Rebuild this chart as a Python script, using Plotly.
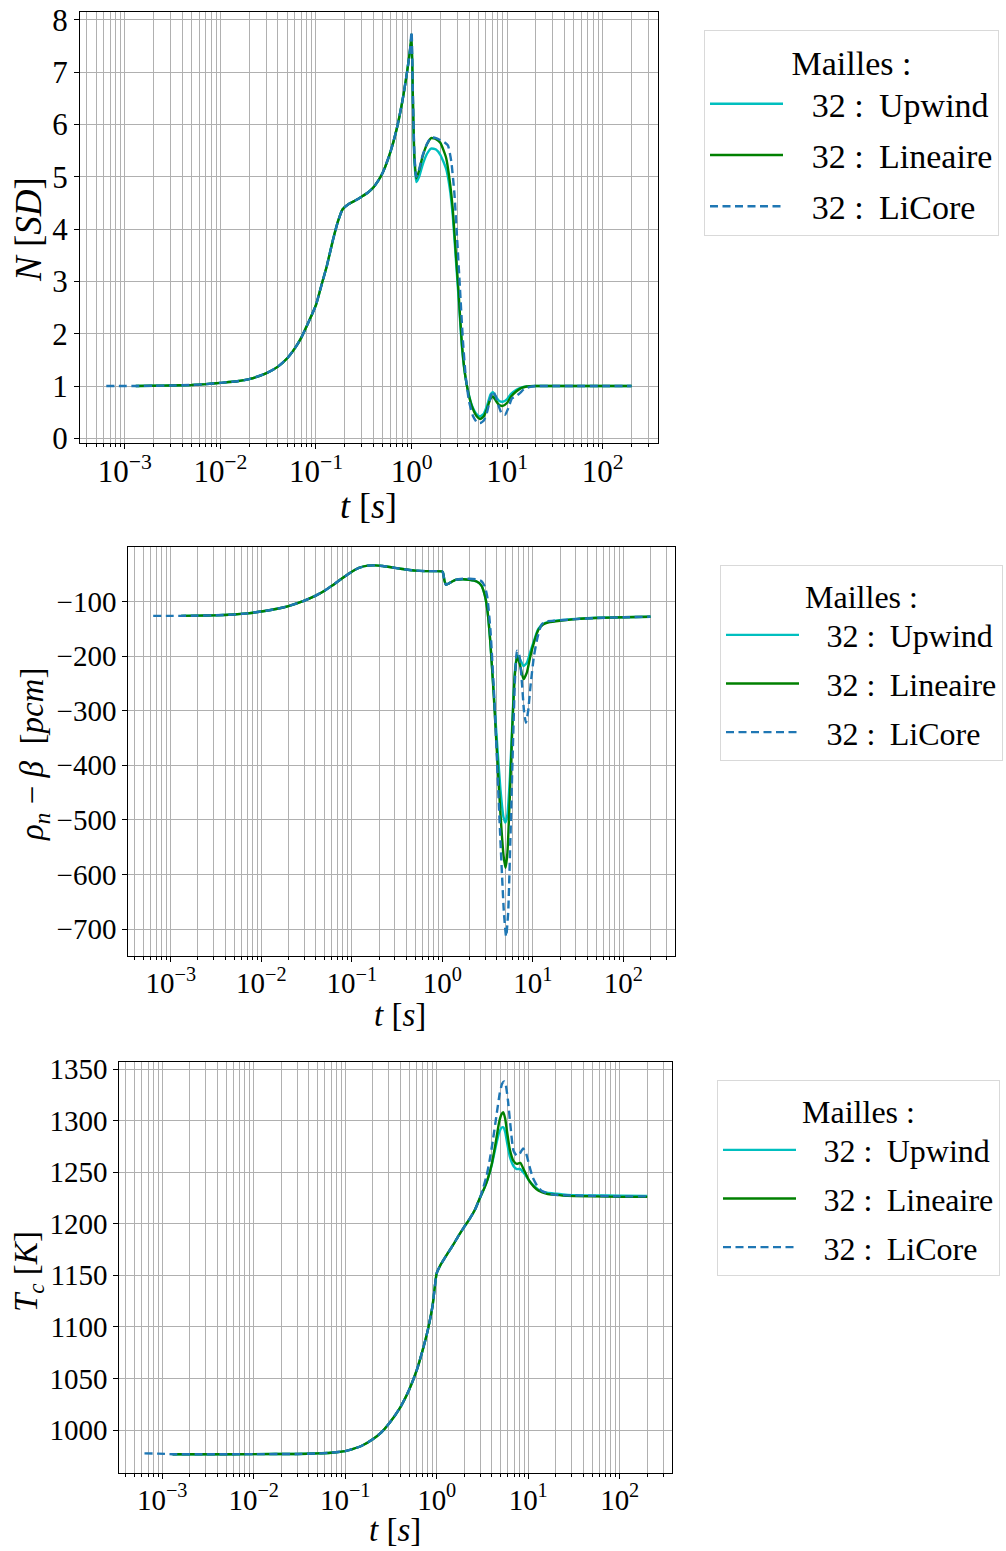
import plotly.graph_objects as go

FONT = "Liberation Serif"
C_UP = "#00bfbf"
C_LIN = "#008000"
C_LIC = "#1f77b4"

# ---------------- data : N [SD] ----------------
t_N_early = [1.3e-3, 2e-3, 3e-3, 5e-3, 7e-3, 1e-2, 1.5e-2, 2e-2, 3e-2, 4e-2, 5e-2, 6e-2, 7e-2,
             8.5e-2, 0.1, 0.115, 0.13, 0.15, 0.17, 0.19, 0.22, 0.26, 0.3, 0.35, 0.4, 0.45, 0.5,
             0.6, 0.7, 0.8, 0.9, 0.96]
N_early = [1.00, 1.005, 1.01, 1.02, 1.035, 1.06, 1.09, 1.13, 1.24, 1.37, 1.53, 1.72, 1.92,
           2.25, 2.55, 2.95, 3.3, 3.78, 4.15, 4.38, 4.48, 4.55, 4.62, 4.7, 4.8, 4.93, 5.08,
           5.47, 5.92, 6.44, 7.02, 7.4]
t_N_licore_start = [6.4e-4, 9e-4]
N_licore_start = [1.0, 1.0]

t_N_late = [1.0, 1.03, 1.07, 1.12, 1.2, 1.3, 1.45, 1.6, 1.8, 2.0, 2.3, 2.5, 2.7, 2.9, 3.1, 3.35,
            3.6, 3.9, 4.3, 4.8, 5.2, 5.7, 6.2, 6.7, 7.1, 7.6, 8.2, 9.0, 10, 11, 12.5, 14, 16,
            20, 30, 50, 100, 200]
N_upwind_late = [7.62, 6.5, 5.3, 4.9, 5.0, 5.22, 5.44, 5.54, 5.52, 5.42, 5.15, 4.8, 4.25, 3.45,
                 2.7, 1.78, 1.25, 0.9, 0.62, 0.46, 0.42, 0.47, 0.64, 0.84, 0.88, 0.8, 0.72,
                 0.7, 0.75, 0.85, 0.93, 0.97, 0.99, 1.0, 1.0, 1.0, 1.0, 1.0]
N_lineaire_late = [7.72, 6.6, 5.4, 4.97, 5.12, 5.38, 5.62, 5.74, 5.72, 5.65, 5.36, 4.94, 4.37,
                   3.55, 2.8, 1.84, 1.27, 0.89, 0.6, 0.42, 0.37, 0.42, 0.58, 0.76, 0.8, 0.72,
                   0.64, 0.62, 0.68, 0.8, 0.9, 0.96, 0.99, 1.0, 1.0, 1.0, 1.0, 1.0]
t_N_licore_late = [1.0, 1.03, 1.07, 1.12, 1.2, 1.3, 1.45, 1.6, 1.8, 2.0, 2.2, 2.4, 2.6, 2.8, 3.0,
                   3.2, 3.45, 3.7, 4.0, 4.4, 4.8, 5.2, 5.7, 6.2, 6.7, 7.1, 7.6, 8.2, 8.8, 9.5,
                   10.3, 11.2, 12.2, 13.5, 15, 17, 20, 30, 50, 100, 200]
N_licore_late = [7.78, 6.65, 5.45, 5.0, 5.14, 5.4, 5.63, 5.75, 5.74, 5.7, 5.66, 5.6, 5.3, 4.7,
                 3.8, 2.9, 1.85, 1.15, 0.7, 0.42, 0.31, 0.29, 0.34, 0.52, 0.78, 0.9, 0.8, 0.6,
                 0.47, 0.45, 0.58, 0.76, 0.8, 0.86, 0.94, 0.98, 1.0, 1.0, 1.0, 1.0, 1.0]

# ---------------- data : rho_n - beta [pcm] ----------------
t_R_early = [1.3e-3, 2e-3, 3e-3, 5e-3, 7e-3, 1e-2, 1.5e-2, 2e-2, 3e-2, 4e-2, 5e-2, 6e-2, 7e-2,
             8.5e-2, 0.1, 0.12, 0.15, 0.18, 0.22, 0.3, 0.4, 0.5, 0.7, 1.0]
R_early = [-126, -125.5, -125, -123.5, -121.5, -118, -113, -108, -98, -89, -80, -71, -63,
           -53, -45, -38, -34, -33.5, -34.5, -38, -41, -43, -44, -44.5]
t_R_licore_start = [6.4e-4, 9e-4]
R_licore_start = [-126, -126]

t_R_late = [1.02, 1.06, 1.1, 1.2, 1.4, 1.7, 2.0, 2.4, 2.7, 2.95, 3.15, 3.4, 3.7, 4.0, 4.4,
            4.75, 5.0, 5.25, 5.6, 5.95, 6.3, 6.7, 7.2, 7.9, 8.6, 9.4, 10.3, 11.5, 13, 15, 20,
            30, 50, 100, 200]
R_upwind_late = [-47, -62, -69, -66, -60, -59, -60, -63, -70, -88, -115, -175, -265, -350,
                 -445, -495, -505, -490, -420, -320, -235, -198, -205, -218, -212, -192, -172,
                 -150, -141, -137, -134, -131.5, -129.5, -128.5, -127.5]
R_lineaire_late = [-47, -62, -69, -66, -60, -59, -60, -63, -70, -88, -115, -175, -270, -370,
                   -490, -565, -588, -560, -450, -330, -240, -200, -215, -242, -230, -200,
                   -175, -152, -142, -138, -135, -132, -130, -128.5, -127.5]
t_R_licore_late = [1.02, 1.06, 1.1, 1.2, 1.4, 1.7, 2.0, 2.4, 2.7, 2.95, 3.15, 3.4, 3.7, 4.0,
                   4.4, 4.8, 5.08, 5.35, 5.65, 6.0, 6.35, 6.7, 7.1, 7.6, 8.0, 8.4, 8.9, 9.5,
                   10.3, 11.3, 12.5, 14, 17, 20, 30, 50, 100, 200]
R_licore_late = [-47, -62, -69, -66, -60, -58, -58, -59, -62, -72, -92, -150, -255, -380,
                 -540, -670, -714, -670, -540, -380, -245, -190, -198, -250, -300, -322, -300,
                 -250, -200, -165, -142, -136, -135, -134, -132, -130, -128.5, -127.5]

# ---------------- data : T_c [K] ----------------
t_T_early = [1.3e-3, 3e-3, 1e-2, 3e-2, 5e-2, 7e-2, 0.1, 0.12, 0.15, 0.2, 0.25, 0.3, 0.4, 0.5,
             0.6, 0.7, 0.8, 0.9, 1.0, 1.1, 1.25, 1.5, 1.75, 2.0, 2.3, 2.6, 3.0]
T_early = [976.5, 976.5, 976.6, 976.8, 977.3, 978, 979.5, 981.5, 984.5, 991, 998, 1006, 1022,
           1039, 1057, 1077, 1097, 1120, 1152, 1160, 1168, 1179, 1189, 1197, 1205, 1213, 1226]
t_T_licore_start = [6.4e-4, 9e-4]
T_licore_start = [977.3, 977.1]

t_T_late = [3.3, 3.6, 4.0, 4.4, 4.8, 5.1, 5.35, 5.6, 5.9, 6.3, 6.9, 7.5, 8.2, 9.0, 10.2, 11.5,
            13, 16, 20, 27, 50, 100, 200]
T_upwind_late = [1234, 1243, 1257, 1274, 1288, 1293, 1293.5, 1289, 1278, 1265, 1256, 1253,
                 1253, 1249, 1242, 1237, 1233, 1230, 1229, 1228, 1227.5, 1227.2, 1227]
T_lineaire_late = [1234, 1243, 1258, 1278, 1298, 1306, 1308, 1302, 1288, 1272, 1261, 1258,
                   1259, 1252, 1242, 1236, 1232, 1229, 1228, 1227, 1226.5, 1226, 1226]
t_T_licore_late = [3.2, 3.5, 3.8, 4.1, 4.5, 4.9, 5.2, 5.45, 5.7, 6.0, 6.4, 6.9, 7.5, 8.1, 8.8,
                   9.5, 10.3, 11.2, 12.5, 14, 17, 20, 27, 50, 100, 200]
T_licore_late = [1234, 1246, 1262, 1280, 1305, 1327, 1336, 1338, 1334, 1320, 1295, 1271, 1266,
                 1268, 1273, 1268, 1256, 1245, 1237, 1232, 1229, 1228, 1227.5, 1227, 1226.5,
                 1226.5]

NB = "\u00a0"
series_names = [NB + NB + "\u2009" + "32" + NB + ":" + NB + "\u2009" + s
                for s in ["Upwind", "Lineaire", "LiCore"]]
x_tick_vals = [1e-3, 1e-2, 1e-1, 1e0, 1e1, 1e2]
x_tick_text = ["10<sup>\u22123</sup>", "10<sup>\u22122</sup>", "10<sup>\u22121</sup>",
               "10<sup>0</sup>", "10<sup>1</sup>", "10<sup>2</sup>"]
x_minor_vals = [k * 10.0 ** e for e in range(-4, 3) for k in range(2, 10)]

# ---------------- figure ----------------
W, H = 1006, 1551


def px_x(p):
    return p / W


def px_y(p):
    return 1 - p / H


panels = [
    dict(
        data=[
            (t_N_early + t_N_late, N_early + N_upwind_late),
            (t_N_early + t_N_late, N_early + N_lineaire_late),
            (t_N_licore_start + t_N_early + t_N_licore_late,
             N_licore_start + N_early + N_licore_late),
        ],
        xdom=[px_x(80), px_x(657.7)], ydom=[px_y(442.7), px_y(12)],
        yrange=[-0.084, 8.15], dtick=1, tick_size=31,
        ytitle="<i>N</i>" + NB + "[<i>SD</i>]", ytitle_pos=(28, 230), ytitle_size=37,
        xtitle_pos=(368, 506), xtitle_size=36,
        legend_top=30, legend_left=704, legend_size=34,
    ),
    dict(
        data=[
            (t_R_early + t_R_late, R_early + R_upwind_late),
            (t_R_early + t_R_late, R_early + R_lineaire_late),
            (t_R_licore_start + t_R_early + t_R_licore_late,
             R_licore_start + R_early + R_licore_late),
        ],
        xdom=[px_x(128.3), px_x(675.3)], ydom=[px_y(956), px_y(547.3)],
        yrange=[-749.5, -0.3], dtick=100, tick_size=29,
        ytitle="<i>\u03c1<sub>n</sub></i>" + NB + "\u2212" + NB + "<i>\u03b2</i>" + NB + NB
               + "[<i>pcm</i>]",
        ytitle_pos=(35, 755), ytitle_size=33,
        xtitle_pos=(400, 1015), xtitle_size=33,
        legend_top=565, legend_left=720, legend_size=32,
    ),
    dict(
        data=[
            (t_T_early + t_T_late, T_early + T_upwind_late),
            (t_T_early + t_T_late, T_early + T_lineaire_late),
            (t_T_licore_start + t_T_early + t_T_licore_late,
             T_licore_start + T_early + T_licore_late),
        ],
        xdom=[px_x(119.3), px_x(672.3)], ydom=[px_y(1472.7), px_y(1062)],
        yrange=[958.6, 1356.8], dtick=50, tick_size=29,
        ytitle="<i>T<sub>c</sub></i>" + NB + "[<i>K</i>]", ytitle_pos=(28, 1272), ytitle_size=33,
        xtitle_pos=(395, 1530), xtitle_size=33,
        legend_top=1080, legend_left=717, legend_size=32,
    ),
]

colors = [C_UP, C_LIN, C_LIC]
dashes = ["solid", "solid", "8px,4.5px"]

fig = go.Figure()
annotations = []
layout = dict(
    width=W, height=H, margin=dict(l=0, r=0, t=0, b=0),
    paper_bgcolor="white", plot_bgcolor="white",
    font=dict(family=FONT, color="black"),
)

for i, p in enumerate(panels):
    sfx = "" if i == 0 else str(i + 1)
    leg = "legend" + sfx
    for j, (tx, vy) in enumerate(p["data"]):
        fig.add_trace(go.Scatter(
            x=tx, y=vy, mode="lines", name=series_names[j],
            xaxis="x" + sfx, yaxis="y" + sfx, legend=leg,
            legendgroup=f"g{i}{j}",
            line=dict(color=colors[j], width=2.4, dash=dashes[j], shape="spline", smoothing=0.5),
        ))
    layout["xaxis" + sfx] = dict(
        type="log", range=[-3.469, 2.575], domain=p["xdom"], anchor="y" + sfx,
        tickmode="array", tickvals=x_tick_vals, ticktext=x_tick_text,
        ticks="outside", ticklen=5, tickwidth=1, tickcolor="black",
        showline=True, mirror=True, linecolor="black", linewidth=1.2,
        showgrid=True, gridcolor="#b0b0b0", gridwidth=1.1, zeroline=False,
        minor=dict(tickmode="array", tickvals=x_minor_vals, ticks="outside", ticklen=3,
                   tickwidth=0.8, tickcolor="black", showgrid=True, gridcolor="#b0b0b0",
                   gridwidth=1.1),
        tickfont=dict(family=FONT, size=p["tick_size"], color="black"),
        ticklabelstandoff=-4,
        automargin=False,
    )
    layout["yaxis" + sfx] = dict(
        range=p["yrange"], domain=p["ydom"], anchor="x" + sfx, dtick=p["dtick"],
        tick0=0, ticks="outside", ticklen=5, tickwidth=1, tickcolor="black",
        showline=True, mirror=True, linecolor="black", linewidth=1.2,
        showgrid=True, gridcolor="#b0b0b0", gridwidth=1.1, zeroline=False,
        tickfont=dict(family=FONT, size=p["tick_size"], color="black"),
        automargin=False,
    )
    layout[leg] = dict(
        x=px_x(p["legend_left"]), y=px_y(p["legend_top"]), xanchor="left", yanchor="top",
        xref="paper", yref="paper",
        bgcolor="white", bordercolor="#d9d9d9", borderwidth=1,
        font=dict(family=FONT, size=p["legend_size"], color="black"),
        title=dict(text="Mailles :", side="top center",
                   font=dict(family=FONT, size=p["legend_size"], color="black")),
        itemwidth=73, traceorder="grouped", tracegroupgap=4,
    )
    annotations.append(dict(
        text="<i>t</i>" + NB + "[<i>s</i>]", x=px_x(p["xtitle_pos"][0]),
        y=px_y(p["xtitle_pos"][1]),
        xref="paper", yref="paper", xanchor="center", yanchor="middle", showarrow=False,
        font=dict(family=FONT, size=p["xtitle_size"], color="black"),
    ))
    annotations.append(dict(
        text=p["ytitle"], x=px_x(p["ytitle_pos"][0]), y=px_y(p["ytitle_pos"][1]),
        xref="paper", yref="paper", xanchor="center", yanchor="middle", showarrow=False,
        textangle=-90, font=dict(family=FONT, size=p["ytitle_size"], color="black"),
    ))

layout["annotations"] = annotations
layout["showlegend"] = True
fig.update_layout(**layout)
fig.write_html("out.html", config={"displayModeBar": False},
               post_script="document.body.style.margin='0px';document.body.style.padding='0px';")
